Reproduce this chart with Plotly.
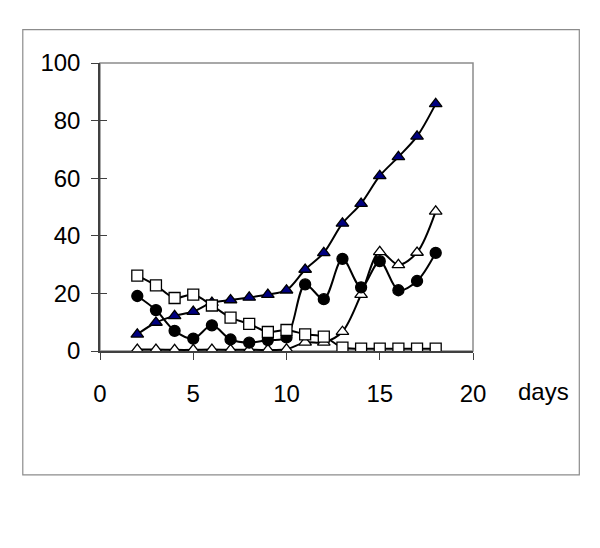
import plotly.graph_objects as go

days = list(range(2, 19))
filled_tri = [5.8, 9.9, 12.2, 13.7, 16.8, 17.7, 18.6, 19.6, 21.1, 28.3, 34.1, 44.3, 51.2, 60.8, 67.4, 74.5, 85.8]
open_sq = [26.2, 22.8, 18.4, 19.6, 15.8, 11.6, 9.4, 6.6, 7.3, 5.8, 5.0, 1.2, 0.8, 0.8, 0.8, 0.8, 0.8]
filled_circ = [19.1, 14.2, 7.0, 4.3, 8.9, 4.0, 2.9, 3.8, 4.7, 23.1, 18.0, 32.0, 22.1, 31.2, 21.1, 24.3, 34.1]
open_tri = [0.5, 0.5, 0.4, 0.4, 0.5, 0.4, 0.4, 0.4, 0.6, 3.0, 3.0, 6.7, 19.6, 34.4, 29.9, 34.2, 48.5]

x_ticks = [0, 5, 10, 15, 20]
y_ticks = [0, 20, 40, 60, 80, 100]

FONT = "Liberation Sans, Arial, sans-serif"


def series(y, symbol, fill):
    return go.Scatter(
        x=days, y=y, mode="lines+markers",
        line=dict(color="black", width=2, shape="spline", smoothing=0.9),
        marker=dict(symbol=symbol, size=11, color=fill, line=dict(color="black", width=1.3)),
        showlegend=False, hoverinfo="skip",
    )


fig = go.Figure()
fig.add_trace(series(open_tri, "triangle-up", "white"))
fig.add_trace(series(filled_circ, "circle", "black"))
fig.add_trace(series(filled_tri, "triangle-up", "#000080"))
fig.add_trace(series(open_sq, "square", "white"))
# invisible trace so the overlay axis (inner half of crossing ticks) gets drawn
fig.add_trace(go.Scatter(x=[0], y=[0], yaxis="y2", mode="markers", marker=dict(opacity=0),
                         showlegend=False, hoverinfo="skip"))

# plot-area frame (top / right in light grey) and outer chart frame
fig.add_shape(type="rect", xref="paper", yref="paper", x0=0, x1=1, y0=0, y1=1,
              line=dict(color="#8c8c8c", width=1.5), layer="below")
fig.add_shape(type="rect", xref="paper", yref="paper", x0=-0.207, x1=1.285, y0=-0.430, y1=1.116,
              line=dict(color="#8c8c8c", width=1.2), layer="below")

fig.add_annotation(text="days", xref="paper", yref="paper", x=1.188, y=-0.142,
                   xanchor="center", yanchor="middle",
                   showarrow=False, font=dict(family=FONT, size=24, color="black"))

fig.update_layout(
    width=600, height=548,
    margin=dict(l=92, r=135, t=55, b=205),
    paper_bgcolor="white", plot_bgcolor="white",
    font=dict(family=FONT, size=24, color="black"),
    xaxis=dict(range=[0, 20], tickvals=x_ticks, showgrid=False, zeroline=False,
               showline=True, linecolor="#404040", linewidth=1.5,
               ticks="outside", ticklen=7, tickcolor="#404040",
               ticklabelstandoff=13),
    yaxis=dict(range=[0, 100], tickvals=y_ticks, showgrid=False, zeroline=False,
               showline=True, linecolor="#404040", linewidth=1.5,
               ticks="outside", ticklen=7, tickcolor="#404040",
               ticklabelstandoff=6),
    yaxis2=dict(range=[0, 100], tickvals=y_ticks, overlaying="y", side="left",
                showgrid=False, zeroline=False, showline=False,
                ticks="inside", ticklen=7, tickcolor="#404040", showticklabels=False),
)

fig.write_html("out.html")
